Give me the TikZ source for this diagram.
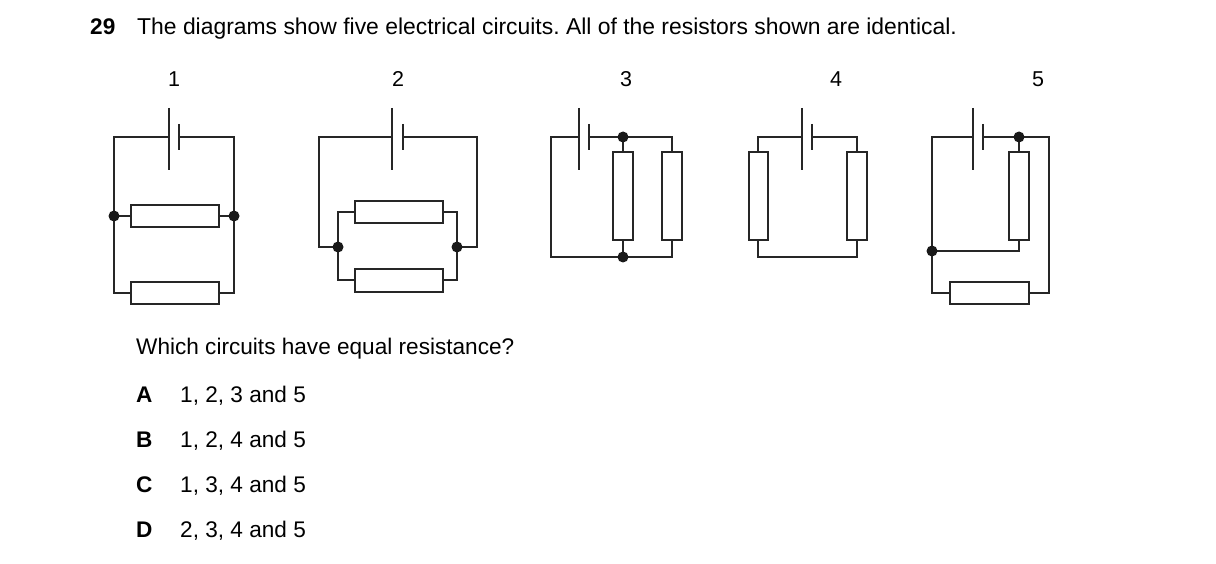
\documentclass[tikz,border=0pt]{standalone}
\usepackage{fontspec}
\setmainfont{Liberation Sans}
\frenchspacing
\tikzset{
  wire/.style={line width=2pt,color=black!85},
  res/.style={wire,fill=white},
  junc/.style={circle,fill=black!90,inner sep=0pt,minimum size=11pt},
  txt/.style={anchor=base west,inner sep=0pt,font=\fontsize{22.6}{26}\selectfont},
  lbl/.style={anchor=base,inner sep=0pt,font=\fontsize{21.5}{26}\selectfont}
}
\begin{document}
\begin{tikzpicture}[x=1pt,y=-1pt]
\useasboundingbox (0,0) rectangle (1216,564);
% Question
\node[txt] (num) at (90,35) {\bfseries 29};
\node[txt,font=\fontsize{22.9}{26}\selectfont] (q) at (137,35) {The diagrams show five electrical circuits. All of the resistors shown are identical.};
% Labels
\node[lbl] (l1) at (174,87) {1};
\node[lbl] (l2) at (398,87) {2};
\node[lbl] (l3) at (626,87) {3};
\node[lbl] (l4) at (836,87) {4};
\node[lbl] (l5) at (1038,87) {5};
% Circuit 1
\draw[wire] (169,108)--(169,170);
\draw[wire] (179,124)--(179,150);
\draw[wire] (169,137)--(114,137)--(114,293)--(131,293);
\draw[wire] (179,137)--(234,137)--(234,293)--(219,293);
\draw[wire] (114,216)--(131,216) (219,216)--(234,216);
\draw[res] (131,205) rectangle (219,227);
\draw[res] (131,282) rectangle (219,304);
\node[junc] (j1a) at (114,216) {};
\node[junc] (j1b) at (234,216) {};
% Circuit 2
\draw[wire] (392,108)--(392,170);
\draw[wire] (403,124)--(403,150);
\draw[wire] (392,137)--(319,137)--(319,247)--(338,247);
\draw[wire] (403,137)--(477,137)--(477,247)--(457,247);
\draw[wire] (355,212)--(338,212)--(338,280)--(355,280);
\draw[wire] (443,212)--(457,212)--(457,280)--(443,280);
\draw[res] (355,201) rectangle (443,223);
\draw[res] (355,269) rectangle (443,292);
\node[junc] (j2a) at (338,247) {};
\node[junc] (j2b) at (457,247) {};
% Circuit 3
\draw[wire] (579,108)--(579,170);
\draw[wire] (589,124)--(589,150);
\draw[wire] (579,137)--(551,137)--(551,257)--(672,257)--(672,240);
\draw[wire] (589,137)--(672,137)--(672,152);
\draw[wire] (623,137)--(623,152) (623,240)--(623,257);
\draw[res] (613,152) rectangle (633,240);
\draw[res] (662,152) rectangle (682,240);
\node[junc] (j3a) at (623,137) {};
\node[junc] (j3b) at (623,257) {};
% Circuit 4
\draw[wire] (802,108)--(802,170);
\draw[wire] (812,124)--(812,150);
\draw[wire] (802,137)--(758,137)--(758,152);
\draw[wire] (812,137)--(857,137)--(857,152);
\draw[wire] (758,240)--(758,257)--(857,257)--(857,240);
\draw[res] (749,152) rectangle (768,240);
\draw[res] (847,152) rectangle (867,240);
% Circuit 5
\draw[wire] (973,108)--(973,170);
\draw[wire] (983,124)--(983,150);
\draw[wire] (973,137)--(932,137)--(932,293)--(950,293);
\draw[wire] (983,137)--(1049,137)--(1049,293)--(1029,293);
\draw[wire] (1019,137)--(1019,152) (1019,240)--(1019,251)--(932,251);
\draw[res] (1009,152) rectangle (1029,240);
\draw[res] (950,282) rectangle (1029,304);
\node[junc] (j5a) at (1019,137) {};
\node[junc] (j5b) at (932,251) {};
% Answers
\node[txt] (ask) at (136,354) {Which circuits have equal resistance?};
\node[txt] (a) at (136,402) {\bfseries A};
\node[txt] (at) at (180,402) {1, 2, 3 and 5};
\node[txt] (b) at (136,447) {\bfseries B};
\node[txt] (bt) at (180,447) {1, 2, 4 and 5};
\node[txt] (c) at (136,492) {\bfseries C};
\node[txt] (ct) at (180,492) {1, 3, 4 and 5};
\node[txt] (d) at (136,537) {\bfseries D};
\node[txt] (dt) at (180,537) {2, 3, 4 and 5};
\end{tikzpicture}
\end{document}
